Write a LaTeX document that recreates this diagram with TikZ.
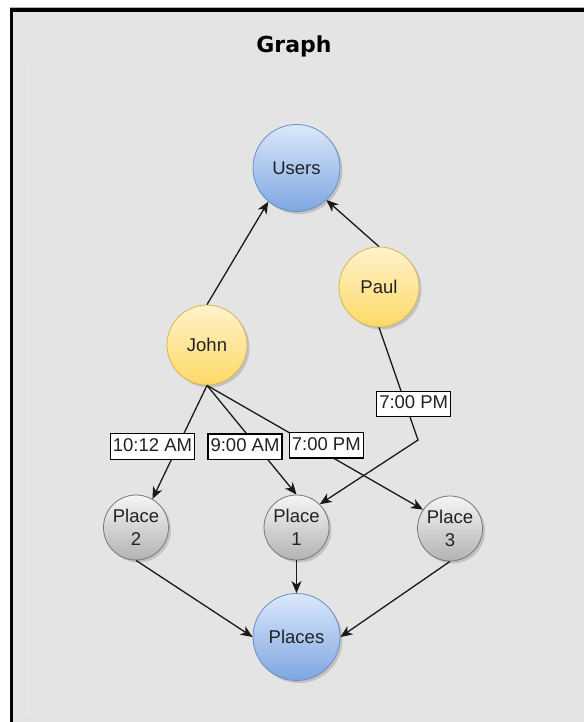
\documentclass[tikz,border=0pt]{standalone}
\usepackage{fontspec}
\setmainfont{Liberation Sans}
\newfontfamily\headfont{DejaVu Sans}
\usetikzlibrary{arrows.meta,shadows}

\definecolor{canvasbg}{HTML}{E4E4E4}
\definecolor{framefaint}{HTML}{E7E7E7}
\definecolor{txt}{HTML}{222222}
\definecolor{blueTop}{HTML}{DAE8FC}
\definecolor{blueBot}{HTML}{7EA6E0}
\definecolor{blueLine}{HTML}{6C8EBF}
\definecolor{yelTop}{HTML}{FFF2CC}
\definecolor{yelBot}{HTML}{FFD966}
\definecolor{yelLine}{HTML}{D6B656}
\definecolor{grayTop}{HTML}{F5F5F5}
\definecolor{grayBot}{HTML}{B3B3B3}
\definecolor{grayLine}{HTML}{777777}

\tikzset{
  vertex/.style={circle, inner sep=0pt, line width=0.8pt, text=txt,
    font=\fontsize{18.5}{23}\selectfont,
    drop shadow={shadow xshift=2.5pt, shadow yshift=-2.5pt, opacity=0.15, fill=black}},
  hub/.style={vertex, minimum size=87pt, draw=blueLine, top color=blueTop, bottom color=blueBot},
  person/.style={vertex, minimum size=80pt, draw=yelLine, top color=yelTop, bottom color=yelBot},
  place/.style={vertex, minimum size=65pt, draw=grayLine, top color=grayTop, bottom color=grayBot, align=center},
  timebox/.style={draw=black, fill=white, line width=1.4pt, inner xsep=2.5pt, inner ysep=4pt,
    text height=13.5pt, text depth=4pt, text=txt, font=\fontsize{18.5}{22}\selectfont},
  link/.style={draw=black!90, line width=1.3pt, -{Stealth[length=12pt,width=10pt,inset=3.5pt]}},
}

\begin{document}
\begin{tikzpicture}[x=1pt,y=-1pt]
\useasboundingbox (0,0) rectangle (584,722);

% page and window frame
\fill[white] (0,0) rectangle (584,722);
\fill[canvasbg] (11.7,10.2) rectangle (584,722);
\draw[gray!60, line width=0.8pt] (10,7.6) -- (584,7.6);
\draw[black, line width=3.4pt] (11.7,722) -- (11.7,10.2) -- (584,10.2);
\draw[framefaint, line width=1.2pt] (28,715) -- (28,59) -- (507,59);

% title
\node (title) at (294,46) {\headfont\bfseries\fontsize{22}{26}\selectfont Graph};

% vertices
\node[hub]    (Users)  at (296.5,168)   {Users};
\node[person] (Paul)   at (379,287)     {Paul};
\node[person] (John)   at (207,345)     {John};
\node[place]  (P2)     at (136,527.5)   {Place\\2};
\node[place]  (P1)     at (296.5,527.5) {Place\\1};
\node[place]  (P3)     at (450,528.5)   {Place\\3};
\node[hub]    (Places) at (296.5,637)   {Places};

\coordinate (bend) at (418,440);

% connectors
\draw[link] (John.north) -- (Users.230);
\draw[link] (Paul.north) -- (Users.313);
\draw[link] (John.south) -- (P2.60);
\draw[link] (John.south) -- (P1.north);
\draw[link] (John.south) -- (P3.145);
\draw[link] (Paul.south) -- (bend) -- (P1.45);
\draw[link] (P2.south) -- (Places.west);
\draw[link] (P1.south) -- (Places.north);
\draw[link] (P3.south) -- (Places.east);

% time labels
\node[timebox] (t1) at (152.5,446.5) {10:12 AM};
\node[timebox] (t2) at (245,446.7)   {9:00 AM};
\node[timebox] (t3) at (326.3,445.3) {7:00 PM};
\node[timebox] (t4) at (413.7,404)   {7:00 PM};
\end{tikzpicture}
\end{document}
